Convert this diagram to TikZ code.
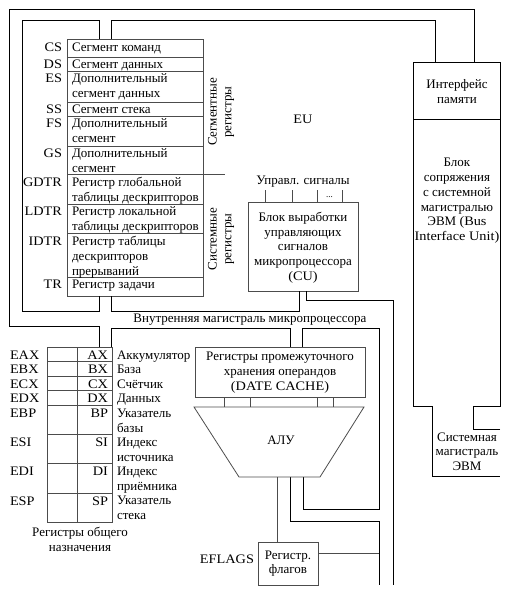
\documentclass[tikz,border=0pt]{standalone}
\usepackage{fontspec}
\setmainfont{Liberation Serif}
\newfontfamily\lat{Liberation Serif}[FakeStretch=1.1]
\begin{document}
\begin{tikzpicture}[x=1pt,y=-1pt,
  every node/.style={font=\fontsize{13}{14.7}\selectfont, inner sep=0pt, outer sep=0pt},
  bus/.style={draw=black, line width=0.8pt},
  box/.style={draw=black!70, line width=0.8pt},
  tl/.style={anchor=north west, align=left},
  rl/.style={anchor=base east, font=\fontsize{13}{14.7}\lat},
  ll/.style={anchor=base west, font=\fontsize{13}{14.7}\lat},
  dl/.style={anchor=base west},
  ctr/.style={align=center}]
\useasboundingbox (0,0) rectangle (511,595);

% ---------- segment / system registers table ----------
\draw[box] (67,39) rectangle (203,296);
\foreach \yy in {57,71,102,116,146,204,233.5,277} \draw[box] (67,\yy) -- (203,\yy);
\draw[box] (67,174.5) -- (225,174.5);

\node[rl] (lcs) at (62,51) {CS};
\node[rl] (lds) at (62,68.5) {DS};
\node[rl] (les) at (62,82.5) {ES};
\node[rl] (lss) at (62,113.5) {SS};
\node[rl] (lfs) at (62,127.5) {FS};
\node[rl] (lgs) at (62,157.5) {GS};
\node[rl] (lgdtr) at (62,186) {GDTR};
\node[rl] (lldtr) at (62,215.5) {LDTR};
\node[rl] (lidtr) at (62,245) {IDTR};
\node[rl] (ltr) at (62,288.5) {TR};

\node[tl] (tcs) at (72,42.4) {Сегмент команд};
\node[tl] (tds) at (72,59.9) {Сегмент данных};
\node[tl] (tes) at (72,73.9) {Дополнительный\\сегмент данных};
\node[tl] (tss) at (72,104.9) {Сегмент стека};
\node[tl] (tfs) at (72,118.9) {Дополнительный\\сегмент};
\node[tl] (tgs) at (72,148.9) {Дополнительный\\сегмент};
\node[tl] (tgdtr) at (72,177.4) {Регистр глобальной\\таблицы дескрипторов};
\node[tl] (tldtr) at (72,206.9) {Регистр локальной\\таблицы дескрипторов};
\node[tl] (tidtr) at (72,236.4) {Регистр таблицы\\дескрипторов\\прерываний};
\node[tl] (ttr) at (72,279.9) {Регистр задачи};

\node[ctr, rotate=90] (segreg) at (221,112) {Сегментные\\регистры};
\node[ctr, rotate=90] (sysreg) at (221,239) {Системные\\регистры};

% ---------- EU label ----------
\node[anchor=base, font=\fontsize{13}{14.7}\lat] (eu) at (303,123) {EU};

% ---------- BIU ----------
\draw[bus] (500,429) -- (473,429) -- (473,406) -- (500,406) -- (500,62) -- (413,62)
  -- (413,406) -- (432,406) -- (432,476) -- (500,476);
\draw[bus] (413,119) -- (500,119);
\node[ctr, anchor=north] (mif) at (457,79.4) {Интерфейс\\памяти};
\node[ctr, anchor=north] (biu) at (457,158.4) {Блок\\сопряжения\\с системной\\магистралью\\ЭВМ {\lat(Bus}\\{\lat Interface Unit)}};
\node[ctr, anchor=north] (sysbus) at (467,432.4) {Системная\\магистраль\\ЭВМ};

% ---------- CU ----------
\draw[box] (248,202) rectangle (358,291);
\node[ctr] (cu) at (303,247.5) {Блок выработки\\управляющих\\сигналов\\микропроцессора\\{\lat(CU)}};
\node[anchor=base] (sig) at (303,184) {Управл. сигналы};
\foreach \xx in {265,292,317,342} \draw[box] (\xx,190) -- (\xx,202);
\node[anchor=base, font=\fontsize{9}{10}\selectfont] (dots) at (329.5,197) {...};

% ---------- internal bus ----------
\node[anchor=base] (ibus) at (250,322) {Внутренняя магистраль микропроцессора};

% outer line
\draw[bus] (99,347) -- (99,326) -- (9,326) -- (9,9) -- (474,9) -- (474,62);
% inner frame
\draw[bus] (99,39) -- (99,20) -- (22,20) -- (22,311) -- (99,311) -- (99,296);
\draw[bus] (111,39) -- (111,20) -- (435,20) -- (435,62);
\draw[bus] (111,296) -- (111,311) -- (299,311) -- (299,291);
\draw[bus] (306,291) -- (306,300) -- (393,300) -- (393,585);
% lower bus line
\draw[bus] (111,347) -- (111,328) -- (290,328) -- (290,347);
\draw[bus] (302,347) -- (302,328) -- (379,328) -- (379,509) -- (303,509) -- (303,477);
\draw[bus] (290,477) -- (290,521) -- (379,521) -- (379,585);
\draw[box] (277,477) -- (277,542);
\draw[box] (318,553) -- (379,553);

% ---------- general purpose registers ----------
\draw[box] (47,347) rectangle (112,522.2);
\draw[box] (77,347) -- (77,522.2);
\foreach \yy in {361.6,376.2,390.8,405.4,434.6,463.8,493} \draw[box] (47,\yy) -- (112,\yy);

\node[ll] (eax) at (10,359) {EAX};
\node[ll] (ebx) at (10,373.6) {EBX};
\node[ll] (ecx) at (10,388.2) {ECX};
\node[ll] (edx) at (10,402.8) {EDX};
\node[ll] (ebp) at (10,417.4) {EBP};
\node[ll] (esi) at (10,446.6) {ESI};
\node[ll] (edi) at (10,475.8) {EDI};
\node[ll] (esp) at (10,505) {ESP};

\node[rl] (ax) at (108,359) {AX};
\node[rl] (bx) at (108,373.6) {BX};
\node[rl] (cx) at (108,388.2) {CX};
\node[rl] (dx) at (108,402.8) {DX};
\node[rl] (bp) at (108,417.4) {BP};
\node[rl] (si) at (108,446.6) {SI};
\node[rl] (di) at (108,475.8) {DI};
\node[rl] (sp) at (108,505) {SP};

\node[dl] (dax) at (117,359) {Аккумулятор};
\node[dl] (dbx) at (117,373.6) {База};
\node[dl] (dcx) at (117,388.2) {Счётчик};
\node[dl] (ddx) at (117,402.8) {Данных};
\node[tl] (dbp) at (117,408.8) {Указатель\\базы};
\node[tl] (dsi) at (117,438) {Индекс\\источника};
\node[tl] (ddi) at (117,467.2) {Индекс\\приёмника};
\node[tl] (dsp) at (117,496.4) {Указатель\\стека};

\node[ctr, anchor=north] (gpr) at (80,527.4) {Регистры общего\\назначения};

% ---------- data cache & ALU ----------
\draw[box] (195,347) rectangle (365,397);
\node[ctr] (dcache) at (280,372.5) {Регистры промежуточного\\хранения операндов\\{\lat(DATE CACHE)}};
\foreach \xx in {224,250,317,333} \draw[box] (\xx,397) -- (\xx,407);
\draw[box] (194,407) -- (364,407) -- (320,477) -- (239,477) -- cycle;
\node (alu) at (281,440) {АЛУ};

% ---------- flags ----------
\draw[box] (258,542) rectangle (318,585);
\node[ctr] (flags) at (288,563.5) {Регистр.\\флагов};
\node[rl] (eflags) at (254,563) {EFLAGS};
\end{tikzpicture}
\end{document}
